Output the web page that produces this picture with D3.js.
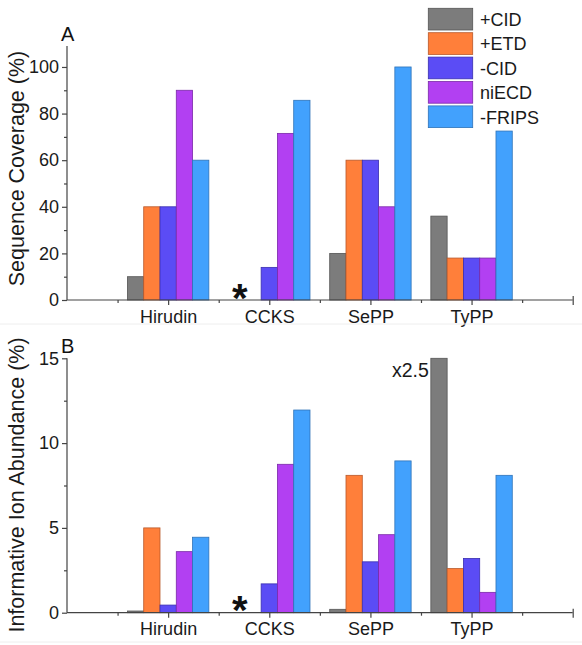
<!DOCTYPE html>
<html><head><meta charset="utf-8">
<script src="https://cdn.jsdelivr.net/npm/d3@7"></script>
<style>
html,body{margin:0;padding:0;background:#fff;}
svg{display:block;font-family:"Liberation Sans",Arial,sans-serif;}
</style></head>
<body>
<svg id="c" width="582" height="645"></svg>
<script>
const categories = ["Hirudin","CCKS","SePP","TyPP"];
const seriesNames = ["+CID","+ETD","-CID","niECD","-FRIPS"];
const seriesColors = ["#7c7c7c","#ff7f3a","#5b4cf5","#b240f2","#42a1fd"];
const seriesStroke = ["#555555","#b8582a","#3a2fb0","#7a2aa8","#2f73b8"];
// Panel A: Sequence Coverage (%)
const coverage = [
  [10, 0, 20, 36],
  [40, 0, 60, 18],
  [40, 14, 60, 18],
  [90, 71.5, 40, 18],
  [60, 85.7, 100, 72.5]
];
// Panel B: Informative Ion Abundance (%)
const abundance = [
  [0.1, 0, 0.2, 15],
  [5.0, 0, 8.1, 2.6],
  [0.45, 1.7, 3.0, 3.2],
  [3.6, 8.75, 4.6, 1.2],
  [4.45, 11.95, 8.95, 8.1]
];
const ticksA = [0,20,40,60,80,100];
const minorA = [10,30,50,70,90];
const ticksB = [0,5,10,15];
const minorB = [2.5,7.5,12.5];

const svg = d3.select("#c");
const x = d3.scaleLinear().domain([0,5]).range([67,572.7]);
const barW = 0.161;

function panel(cfg){
  const y = d3.scaleLinear().domain(cfg.domain).range(cfg.range);
  const g = svg.append("g");
  // bars
  cfg.data.forEach((vals, si) => {
    g.selectAll(null).data(vals.map((v,ci)=>({v,ci}))).join("rect")
      .filter(d => d.v > 0)
      .attr("x", d => x(d.ci + 1 + (si-2)*barW - barW/2))
      .attr("width", x(barW) - x(0))
      .attr("y", d => y(d.v))
      .attr("height", d => y(0) - y(d.v))
      .attr("fill", seriesColors[si])
      .attr("stroke", seriesStroke[si])
      .attr("stroke-width", 0.8);
  });
  // y axis
  const ya = g.append("g").attr("transform", `translate(${x(0)},0)`)
    .call(d3.axisLeft(y).tickValues(cfg.ticks).tickSize(5).tickPadding(3).tickFormat(d3.format("d")));
  const ym = g.append("g").attr("transform", `translate(${x(0)},0)`)
    .call(d3.axisLeft(y).tickValues(cfg.minor).tickSize(3).tickFormat(""));
  ym.select(".domain").remove();
  ya.select(".domain").attr("d", `M0,${y(0)}V${y(cfg.domain[1])}`);
  // x axis
  const xa = g.append("g").attr("transform", `translate(0,${y(0)})`)
    .call(d3.axisBottom(x).tickValues([1,2,3,4]).tickSize(5).tickPadding(5)
      .tickFormat(d => categories[d-1]));
  xa.select(".domain").attr("d", `M${x(0)},0H${x(5)}`);
  const xm = g.append("g").attr("transform", `translate(0,${y(0)})`)
    .call(d3.axisBottom(x).tickValues([0.5,1.5,2.5,3.5,4.5]).tickSize(3).tickFormat(""));
  xm.select(".domain").remove();
  const xe = g.append("g").attr("transform", `translate(0,${y(0)})`)
    .call(d3.axisBottom(x).tickValues([5]).tickSize(5).tickFormat(""));
  xe.select(".domain").remove();
  xe.selectAll(".tick line").attr("y1", -4);
  g.selectAll(".domain, .tick line").attr("stroke", "#444").attr("stroke-width", 1.2);
  ya.selectAll(".tick text").attr("font-size", 18).attr("fill", "#1a1a1a").attr("font-family", "Liberation Sans, Arial, sans-serif");
  xa.selectAll(".tick text").attr("font-size", 18).attr("fill", "#1a1a1a").attr("font-family", "Liberation Sans, Arial, sans-serif");
  // y title
  g.append("text").attr("transform", `translate(${cfg.titleX},${cfg.titleY}) rotate(-90)`)
    .attr("text-anchor","middle").attr("font-size",21.5).attr("fill","#1a1a1a").text(cfg.title);
  // panel label
  g.append("text").attr("x", 61).attr("y", cfg.labelY).attr("font-size", 20).attr("fill","#111").text(cfg.label);
  // asterisk
  g.append("text").attr("x", x(2) - 29.5).attr("y", y(0) + 11.5).attr("text-anchor","middle")
    .attr("font-size", 40).attr("font-weight","bold").attr("fill","#111").text("*");
  return {g,y};
}

const A = panel({domain:[0,109], range:[300,46], data:coverage, ticks:ticksA, minor:minorA,
  title:"Sequence Coverage (%)", titleX:23.5, titleY:168.5, label:"A", labelY:41});
const B = panel({domain:[0,15], range:[612.7,358.3], data:abundance, ticks:ticksB, minor:minorB,
  title:"Informative Ion Abundance (%)", titleX:23.5, titleY:485, label:"B", labelY:353});

// x2.5 annotation on TyPP +CID bar in panel B
B.g.append("text").attr("x", x(4 - 2*barW - barW/2) - 2).attr("y", B.y(15) + 19)
  .attr("text-anchor","end").attr("font-size",19.5).attr("fill","#1a1a1a").text("x2.5");

// faint separators
svg.append("line").attr("x1",0).attr("x2",582).attr("y1",324).attr("y2",324).attr("stroke","#eeeeee");
svg.append("line").attr("x1",0).attr("x2",582).attr("y1",642).attr("y2",642).attr("stroke","#eeeeee");

// legend
const leg = svg.append("g");
seriesNames.forEach((n,i) => {
  leg.append("rect").attr("x",428.3).attr("y",8.3 + i*24.4).attr("width",44.4).attr("height",21.7)
    .attr("fill",seriesColors[i]).attr("stroke",seriesStroke[i]).attr("stroke-width",0.8);
  leg.append("text").attr("x",480).attr("y",26 + i*24.4).attr("font-size",18).attr("fill","#1a1a1a").text(n);
});
</script>
</body></html>
